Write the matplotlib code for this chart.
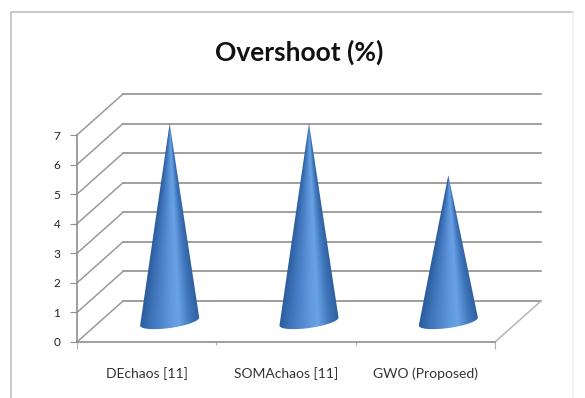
import numpy as np
import matplotlib
matplotlib.use("Agg")
import matplotlib.pyplot as plt
from matplotlib.colors import LinearSegmentedColormap
from matplotlib.lines import Line2D
from matplotlib.patches import PathPatch
from matplotlib.path import Path

categories = ["DEchaos [11]", "SOMAchaos [11]", "GWO (Proposed)"]
overshoot = [6.7, 6.7, 4.95]
y_ticks = [0, 1, 2, 3, 4, 5, 6, 7]

W, H = 585, 398
GRID = "#8f8f8f"

# oblique depth of the floor, in category / value units
DEPTH_X = 0.33
DEPTH_Y = 1.385
CONE_W = 0.212
CONE_E = 0.22
CONE_TILT = 0.135

plt.rcParams["font.family"] = ["Lato", "DejaVu Sans"]

fig = plt.figure(figsize=(W / 100, H / 100), dpi=100, facecolor="white")

# chart area border, the right edge is barely visible
left, right, top = 11 / W, 573 / W, 1 - 12 / H
fig.add_artist(Line2D([left, left, right], [0, top, top], color="#c9c9c9", lw=1.4))
fig.add_artist(Line2D([right, right], [top, 0], color="#efefef", lw=1.2))

ax = fig.add_axes([77 / W, 56 / H, 418 / W, 207 / H])
ax.patch.set_alpha(0)

# back wall gridlines and the side wall diagonals
for v in y_ticks:
    ax.plot([DEPTH_X, 3 + DEPTH_X], [v + DEPTH_Y] * 2, color=GRID, lw=1.2, clip_on=False, zorder=1)
    ax.plot([0, DEPTH_X], [v, v + DEPTH_Y], color="#9a9a9a", lw=1.1, clip_on=False, zorder=1)
ax.plot([3, 3 + DEPTH_X], [0, DEPTH_Y], color="#b5b5b5", lw=1.1, clip_on=False, zorder=1)

cone_cmap = LinearSegmentedColormap.from_list("cone", [
    (0.0, "#2a5c9c"), (0.2, "#3f75ba"), (0.5, "#5f97dc"), (0.65, "#6aa2e6"),
    (0.85, "#3f76bb"), (1.0, "#2d609f")])

for i, val in enumerate(overshoot):
    xc = i + 0.5 + DEPTH_X / 2
    y0 = DEPTH_Y / 2
    tip = y0 + val

    # shade follows the cone surface, so the bands converge at the tip
    xs = np.linspace(xc - CONE_W, xc + CONE_W, 120)
    ys = np.linspace(y0 - CONE_E - CONE_TILT, tip, 400)
    xx, yy = np.meshgrid(xs, ys)
    half = CONE_W * np.clip((tip - yy) / val, 0.004, 1)
    u = np.clip((xx - xc) / half, -1, 1)
    im = ax.imshow((u + 1) / 2, cmap=cone_cmap, vmin=0, vmax=1, origin="lower", aspect="auto",
                   extent=(xs[0], xs[-1], ys[0], ys[-1]), zorder=3,
                   interpolation="bilinear")

    # base ellipse leans up towards the right
    t = np.linspace(np.pi, 2 * np.pi, 40)
    base_x = xc + CONE_W * np.cos(t)
    base_y = y0 + CONE_E * np.sin(t) + CONE_TILT * np.cos(t)
    outline = [(xc, tip)] + list(zip(base_x, base_y)) + [(xc, tip)]
    clip = PathPatch(Path(outline), transform=ax.transData, fc="none", ec="none")
    ax.add_patch(clip)
    # tips rise above the axes box, so only the cone outline clips
    im.set_clip_box(fig.bbox)
    im.set_clip_path(clip)

ax.set_xlim(0, 3)
ax.set_ylim(0, 7)

for side in ["top", "right"]:
    ax.spines[side].set_visible(False)
for side in ["left", "bottom"]:
    ax.spines[side].set_color(GRID)
    ax.spines[side].set_linewidth(1.2)

ax.set_yticks(y_ticks)
ax.tick_params(axis="y", length=5, color=GRID, labelsize=8.5, pad=7, labelcolor="#222222")
ax.set_xticks([0, 1, 2, 3])
ax.set_xticklabels([])
ax.set_xticks([0.5, 1.5, 2.5], labels=categories, minor=True)
ax.tick_params(axis="x", which="major", length=5, color="#b0b0b0")
ax.tick_params(axis="x", which="minor", length=0, labelsize=10, pad=18, labelcolor="#333333")
for tick in ax.xaxis.get_major_ticks()[1:3]:
    tick.tick1line.set_markersize(2)

fig.text(299 / W, 1 - 52 / H, "Overshoot (%)", ha="center", va="center",
         fontsize=19, fontweight="bold", color="#111111")

fig.savefig("out.png", dpi=100)
